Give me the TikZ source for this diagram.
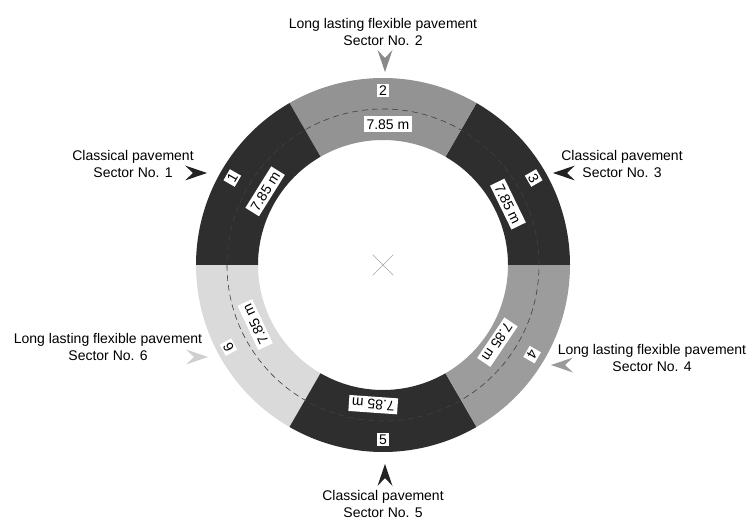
\documentclass[tikz,border=0pt]{standalone}
\usepackage{fontspec}
\setmainfont{Liberation Sans}
\usetikzlibrary{shapes.misc}
\definecolor{darksec}{HTML}{2E2E2E}
\definecolor{midsec}{HTML}{939393}
\definecolor{midsecb}{HTML}{9C9C9C}
\definecolor{lightsec}{HTML}{DADADA}
\definecolor{arrdark}{HTML}{222222}
\definecolor{arrmid}{HTML}{8A8A8A}
\definecolor{arrmidb}{HTML}{9A9A9A}
\definecolor{arrlight}{HTML}{CFCFCF}
\tikzset{
  chev/.pic={\path[pic actions] (0,0) -- (-22,7.5) -- (-14,0) -- (-22,-7.5) -- cycle;},
  caption/.style={align=center, font=\fontsize{14}{17}\selectfont, inner sep=0pt},
  numbox/.style={fill=white, font=\fontsize{14}{16}\selectfont, text height=10pt, text depth=0pt, inner xsep=2.5pt, inner ysep=1.5pt},
  lenbox/.style={fill=white, font=\fontsize{14}{16}\selectfont, text height=10pt, text depth=0pt, inner xsep=3pt, inner ysep=3pt},
}
\begin{document}
\begin{tikzpicture}[x=1pt,y=1pt]
\useasboundingbox (-383,-254) rectangle (368,265);
\fill[white] (-383,-254) rectangle (368,265);
\def\Ro{187}\def\Ri{125}
% sectors
\foreach \a/\b/\c in {0/60/darksec,60/120/midsec,120/180/darksec,180/240/lightsec,240/300/darksec,300/360/midsecb}{
  \fill[\c] (\a:\Ro) arc[start angle=\a, end angle=\b, radius=\Ro] -- (\b:\Ri) arc[start angle=\b, end angle=\a, radius=\Ri] -- cycle;
}
% dashed centre line
\draw[black!75, line width=0.6pt, dash pattern=on 6pt off 4pt] (0,0) circle[radius=156];
% centre mark
\node[cross out, draw=black!35, line width=0.6pt, minimum size=20pt, inner sep=0pt] (ctr) at (0,0) {};
% sector numbers
\node[numbox, rotate=60] (n1) at (150:174) {1};
\node[numbox] (n2) at (90:174) {2};
\node[numbox, rotate=-60] (n3) at (30:174) {3};
\node[numbox, rotate=-120] (n4) at (-31:174) {4};
\node[numbox] (n5) at (270:174) {5};
\node[numbox, rotate=118] (n6) at (208:175) {6};
% lengths
\node[lenbox] (l2) at (88:141) {7.85 m};
\node[lenbox, rotate=58] (l1) at (148:139) {7.85 m};
\node[lenbox, rotate=-64] (l3) at (26:139) {7.85 m};
\node[lenbox, rotate=-124] (l4) at (-34:138) {7.85 m};
\node[lenbox, rotate=176] (l5) at (266:140) {7.85 m};
\node[lenbox, rotate=115] (l6) at (205:141) {7.85 m};
% captions
\node[caption] (c2) at (0,233) {Long lasting flexible pavement\\Sector No. 2};
\node[caption] (c1) at (-250,101) {Classical pavement\\Sector No. 1};
\node[caption] (c3) at (239,101) {Classical pavement\\Sector No. 3};
\node[caption] (c6) at (-275,-82) {Long lasting flexible pavement\\Sector No. 6};
\node[caption] (c4) at (269,-93) {Long lasting flexible pavement\\Sector No. 4};
\node[caption] (c5) at (0,-238.5) {Classical pavement\\Sector No. 5};
% arrowheads
\pic[fill=arrmid, rotate=-90] (a2) at (2,193) {chev};
\pic[fill=arrdark] (a1) at (-176,92) {chev};
\pic[fill=arrdark, rotate=180] (a3) at (170,92) {chev};
\pic[fill=arrlight] (a6) at (-175,-92) {chev};
\pic[fill=arrmidb, rotate=180] (a4) at (168,-100) {chev};
\pic[fill=arrdark, rotate=90] (a5) at (2,-199) {chev};
\end{tikzpicture}
\end{document}
